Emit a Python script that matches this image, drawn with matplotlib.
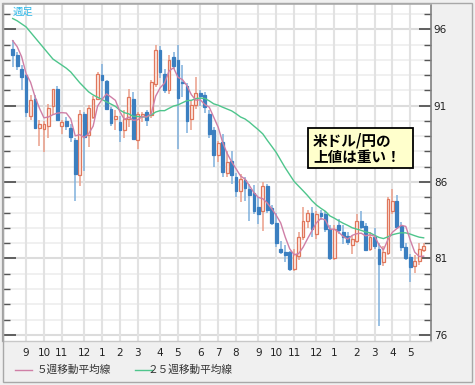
import matplotlib
matplotlib.use('Agg')
import matplotlib.pyplot as plt
import numpy as np
from matplotlib.patches import Rectangle
from matplotlib.lines import Line2D

opens = [94.73, 94.34, 93.42, 92.98, 90.33, 91.45, 89.55, 89.49, 89.64, 90.95,
         92.11, 89.64, 89.99, 89.55, 88.77, 86.49, 90.43, 89.05, 90.25, 91.45,
         92.98, 92.61, 90.80, 90.10, 89.92, 89.38, 90.14, 91.45, 88.77, 90.30,
         90.58, 90.36, 92.44, 94.62, 93.10, 92.00, 94.20, 93.97, 92.55, 92.30,
         90.15, 91.02, 91.82, 91.67, 90.47, 89.38, 87.74, 88.61, 86.58, 87.41,
         86.31, 85.44, 86.14, 85.55, 85.30, 84.40, 84.13, 85.77, 84.30, 83.30,
         81.62, 81.40, 81.40, 80.31, 81.18, 82.38, 83.48, 84.00, 82.60, 84.00,
         83.90, 82.93, 81.03, 83.20, 82.71, 82.49, 81.90, 82.12, 83.48, 83.15,
         81.62, 82.38, 81.62, 80.74, 81.33, 84.13, 84.79, 83.15, 81.72, 81.07,
         80.52, 80.85, 81.55]
highs = [95.30, 94.51, 93.64, 93.10, 91.67, 91.67, 90.03, 90.00, 91.12, 92.10,
         92.27, 90.03, 90.25, 89.80, 88.90, 90.73, 90.58, 91.02, 91.60, 93.20,
         93.75, 92.66, 90.90, 90.69, 90.30, 90.69, 92.11, 91.89, 90.60, 90.60,
         90.69, 92.65, 94.95, 94.90, 93.42, 94.30, 94.50, 94.95, 93.64, 92.50,
         91.30, 92.87, 92.00, 91.90, 90.70, 89.60, 88.67, 89.16, 88.00, 88.00,
         86.60, 86.54, 86.30, 85.90, 85.80, 85.00, 85.99, 85.90, 84.50, 84.00,
         82.15, 81.90, 81.50, 81.60, 82.71, 84.35, 84.20, 84.40, 84.10, 84.20,
         84.10, 83.20, 83.20, 83.60, 83.20, 82.70, 82.50, 83.91, 84.10, 83.30,
         82.70, 83.00, 82.00, 81.80, 85.05, 85.55, 85.18, 83.40, 82.00, 81.30,
         81.20, 82.00, 82.00]
lows = [93.50, 93.31, 92.00, 90.25, 90.03, 89.49, 88.39, 87.96, 88.90, 90.36,
        90.03, 89.16, 89.38, 88.60, 84.79, 85.77, 86.75, 88.28, 90.15, 91.34,
        91.45, 90.70, 89.70, 89.38, 88.61, 88.90, 89.60, 88.72, 88.18, 89.92,
        89.70, 90.20, 92.22, 92.80, 91.80, 91.78, 93.40, 88.18, 91.56, 89.20,
        89.40, 90.80, 91.00, 90.50, 88.90, 86.97, 87.30, 86.31, 86.31, 85.88,
        85.00, 84.67, 84.79, 83.48, 83.90, 83.26, 82.82, 84.00, 83.20, 81.72,
        81.30, 80.80, 80.20, 80.20, 80.90, 82.20, 83.00, 82.40, 82.30, 83.50,
        82.70, 80.90, 80.90, 82.60, 81.95, 81.90, 81.29, 82.00, 82.90, 81.50,
        81.50, 81.60, 76.60, 80.50, 81.20, 83.90, 82.90, 81.50, 80.90, 79.43,
        80.08, 80.60, 81.40]
closes = [94.29, 93.57, 92.87, 90.58, 91.34, 89.55, 89.77, 89.77, 90.87, 92.07,
          90.08, 89.92, 89.64, 88.94, 86.54, 90.47, 88.98, 90.87, 91.41, 93.10,
          92.66, 90.80, 89.86, 90.30, 89.38, 90.14, 91.56, 88.83, 90.47, 90.43,
          90.03, 92.54, 94.62, 93.20, 92.00, 93.97, 93.60, 91.50, 92.45, 90.00,
          91.02, 91.82, 91.60, 90.90, 89.16, 87.74, 88.54, 86.64, 87.30, 86.43,
          85.44, 86.20, 85.60, 85.15, 84.13, 83.90, 85.77, 84.15, 83.30, 81.99,
          81.40, 81.20, 80.31, 81.29, 82.38, 83.48, 84.00, 82.93, 83.90, 83.80,
          82.93, 81.03, 82.93, 82.87, 82.43, 82.05, 82.27, 83.48, 83.05, 81.55,
          82.38, 81.84, 80.64, 81.40, 84.90, 84.79, 83.05, 81.72, 81.03, 80.41,
          80.85, 81.62, 81.84]
# moving-average values for the first weeks (history before window)
ma5_head = [95.25, 94.86, 94.20, 93.10]
ma25_head = [96.70, 96.55, 96.35, 96.15, 95.80, 95.45, 95.10, 94.75, 94.40, 94.05,
             93.85, 93.65, 93.45, 93.20, 92.85, 92.50, 92.20, 91.90, 91.70, 91.55,
             91.40, 91.25, 91.10, 90.95]
month_pos = [3, 7, 11, 16, 20, 24, 28, 33, 37, 42, 46, 50, 55, 59, 63, 68, 72, 77, 81, 85, 89]
month_labels = ['9', '10', '11', '12', '1', '2', '3', '4', '5', '6', '7', '8',
                '9', '10', '11', '12', '1', '2', '3', '4', '5']
y_ticks = [76, 81, 86, 91, 96]
legend_labels = ['５週移動平均線', '２５週移動平均線']
frame_label = '週足'
note_lines = ['米ドル/円の', '上値は重い！']

CJK = ['Noto Sans CJK JP', 'DejaVu Sans']
W, H = 475, 385
fig = plt.figure(figsize=(W / 100, H / 100), dpi=100, facecolor='#f0f0f0')

def fx(px):
    return px / W

def fy(py):
    return 1 - py / H

ax = fig.add_axes([fx(3), fy(341), fx(431) - fx(3), fy(4) - fy(341)])
ax.set_facecolor('white')

n = len(closes)
x = np.arange(n)
o = np.array(opens); c = np.array(closes); h = np.array(highs); l = np.array(lows)
up = c >= o

# moving averages
cs = np.array(closes)
ma5 = np.array(ma5_head + [cs[i - 4:i + 1].mean() for i in range(4, n)])
ma25 = np.array(ma25_head + [cs[i - 24:i + 1].mean() for i in range(24, n)])

ax.set_xlim(-2.17, 93.64)
ax.set_ylim(75.6, 97.65)

# grid
for v in range(76, 98):
    major = v in y_ticks
    ax.axhline(v, color='#dcdcdc' if major else '#ececec', lw=1.5 if major else 1.1, zorder=0)
for p in month_pos:
    ax.axvline(p, color='#e2e2e2', lw=1.5, zorder=0)

# candles
up_edge, up_face, up_wick = '#e0775c', '#fdebe5', '#eb9f8a'
dn_edge, dn_face, dn_wick = '#3b7fc0', '#3b7fc0', '#7fb0dc'
ax.vlines(x[up], l[up], h[up], color=up_wick, lw=1.1, zorder=2)
ax.vlines(x[~up], l[~up], h[~up], color=dn_wick, lw=1.1, zorder=2)
bh = np.maximum(np.abs(c - o), 0.06)
bb = np.minimum(o, c)
ax.bar(x[up], bh[up], bottom=bb[up], width=0.62, color=up_face, edgecolor=up_edge, lw=0.9, zorder=3)
ax.bar(x[~up], bh[~up], bottom=bb[~up], width=0.62, color=dn_face, edgecolor=dn_edge, lw=0.9, zorder=3)

# MAs
ma5_color, ma25_color = '#cf7fa6', '#4ec58c'
ax.plot(x, ma25, color=ma25_color, lw=1.0, zorder=4)
ax.plot(x, ma5, color=ma5_color, lw=1.0, zorder=4)

# axes styling
ax.set_xticks(month_pos)
ax.set_xticklabels(month_labels)
ax.set_yticks(y_ticks)
ax.set_yticks(range(76, 98), minor=True)
ax.tick_params(axis='x', length=0, labelsize=7.5, colors='#222222', pad=5)
ax.tick_params(axis='y', which='both', left=True, right=True, labelleft=False, labelright=True,
               direction='in', colors='#555555', labelcolor='#222222', labelsize=7.5, pad=2)
ax.tick_params(axis='y', which='major', length=9, width=1.3)
ax.tick_params(axis='y', which='minor', length=5, width=1.0)
for lab in ax.get_xticklabels() + ax.get_yticklabels():
    lab.set_fontfamily('DejaVu Sans')
ax.spines['left'].set_color('#a0a0a0'); ax.spines['left'].set_linewidth(1.6)
ax.spines['right'].set_color('#808080'); ax.spines['right'].set_linewidth(1.2)
ax.spines['top'].set_color('#b0b0b0'); ax.spines['top'].set_linewidth(1.2)
ax.spines['bottom'].set_color('#c8c8c8'); ax.spines['bottom'].set_linewidth(1.0)

# outer frame
fig.add_artist(Rectangle((fx(2.5), fy(382)), fx(472) - fx(2.5), fy(3) - fy(382),
                         transform=fig.transFigure, fill=False, edgecolor='#a8a8a8', lw=1.0))

# label top-left
fig.text(fx(13), fy(12), frame_label, color='#30b8e8', fontsize=7.5, family=CJK,
         ha='left', va='center')

# annotation box
fig.add_artist(Rectangle((fx(308), fy(168)), fx(413) - fx(308), fy(128) - fy(168),
                         transform=fig.transFigure, facecolor='#ffffcc', edgecolor='black',
                         lw=1.3, zorder=10))
fig.text(fx(313), fy(140), note_lines[0], fontsize=10.5, fontweight='bold', family=CJK,
         ha='left', va='center', zorder=11)
fig.text(fx(313), fy(157), note_lines[1], fontsize=10.5, fontweight='bold', family=CJK,
         ha='left', va='center', zorder=11)

# legend
ly = fy(370)
fig.add_artist(Line2D([fx(15), fx(32)], [ly, ly], color=ma5_color, lw=1.0, transform=fig.transFigure))
fig.text(fx(37), ly, legend_labels[0], fontsize=7.7, family=CJK, color='#333333', ha='left', va='center')
fig.add_artist(Line2D([fx(135), fx(152)], [ly, ly], color=ma25_color, lw=1.0, transform=fig.transFigure))
fig.text(fx(148), ly, legend_labels[1], fontsize=7.7, family=CJK, color='#333333', ha='left', va='center')

fig.savefig('out.png', dpi=100, facecolor=fig.get_facecolor())
